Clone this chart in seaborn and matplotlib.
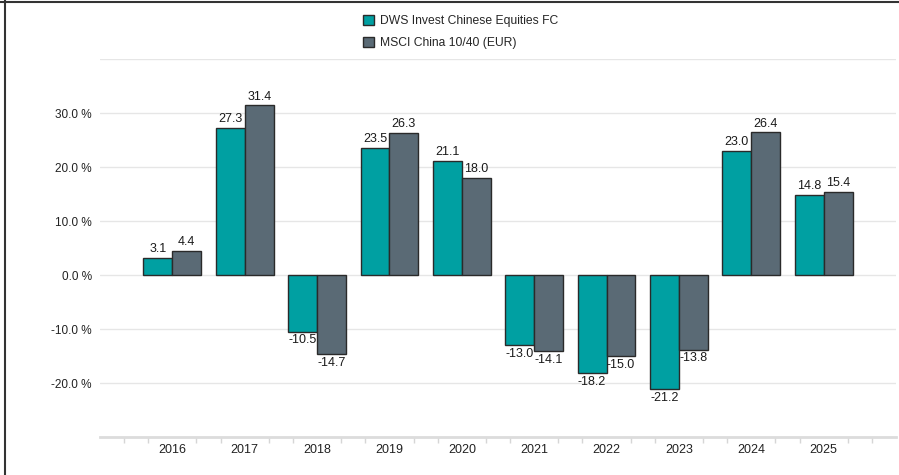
import numpy as np
import pandas as pd
import matplotlib
matplotlib.use("Agg")
import matplotlib.pyplot as plt
import seaborn as sns
from matplotlib.lines import Line2D

# ================= DATA =================
years = ["2016", "2017", "2018", "2019", "2020", "2021", "2022", "2023", "2024", "2025"]
fund = [3.1, 27.3, -10.5, 23.5, 21.1, -13.0, -18.2, -21.2, 23.0, 14.8]
bench = [4.4, 31.4, -14.7, 26.3, 18.0, -14.1, -15.0, -13.8, 26.4, 15.4]
series = ["DWS Invest Chinese Equities FC", "MSCI China 10/40 (EUR)"]
colors = ["#00A0A2", "#5A6A75"]
ytick_vals = [-20, -10, 0, 10, 20, 30, 40]

df = pd.DataFrame({
    "year": years * 2,
    "value": fund + bench,
    "series": [series[0]] * len(years) + [series[1]] * len(years),
})

# ================= STYLE =================
sns.set_style("white")
plt.rcParams["font.family"] = ["Liberation Sans", "DejaVu Sans"]

fig = plt.figure(figsize=(8.99, 4.75), dpi=100)
ax = fig.add_axes([100 / 899, 1 - 437 / 475, 796 / 899, 378 / 475])

sns.barplot(data=df, x="year", y="value", hue="series", palette=colors,
            width=0.8, edgecolor="#2a2a2a", linewidth=1.0, ax=ax,
            saturation=1, legend=True)

for cont in ax.containers:
    ax.bar_label(cont, fmt="%.1f", padding=2, fontsize=9, color="#1a1a1a")

# ================= AXES =================
ax.set_xlim(-1, len(years))
ax.set_ylim(-30, 40)
ax.set_yticks(ytick_vals)
ax.set_yticklabels([f"{v:.1f} %" if v < 40 else "" for v in ytick_vals],
                   fontsize=8.5, color="#222222")
ax.grid(axis="y", color="#e6e6e6", linewidth=1)
ax.set_axisbelow(True)
ax.set_xlabel("")
ax.set_ylabel("")

for s in ["top", "right", "left"]:
    ax.spines[s].set_visible(False)
ax.spines["bottom"].set_color("#dcdcdc")
ax.spines["bottom"].set_linewidth(2)

ax.tick_params(axis="y", length=0, pad=6)
ax.tick_params(axis="x", length=0, labelsize=9, labelcolor="#222222", pad=5)

minor = [k / 3 for k in range(-3, 3 * len(years) + 1) if k % 3 != 0]
ax.set_xticks(minor, minor=True)
ax.tick_params(axis="x", which="minor", bottom=True, length=4, color="#d6d6d6", width=1)

# ================= LEGEND =================
handles, labels = ax.get_legend_handles_labels()
ax.legend(handles, labels, loc="upper left", bbox_to_anchor=(352 / 899, 1 - 4 / 475),
          bbox_transform=fig.transFigure, frameon=False, fontsize=8.7,
          handlelength=0.95, handleheight=0.95, handletextpad=0.45, labelspacing=0.8)

# ================= FRAME =================
fig.add_artist(Line2D([4.5 / 899, 4.5 / 899], [0, 1], transform=fig.transFigure,
                      color="#333333", linewidth=1.5))
fig.add_artist(Line2D([0, 1], [1 - 1.5 / 475, 1 - 1.5 / 475], transform=fig.transFigure,
                      color="#333333", linewidth=1.5))

fig.savefig("out.png", dpi=100)
plt.close()
